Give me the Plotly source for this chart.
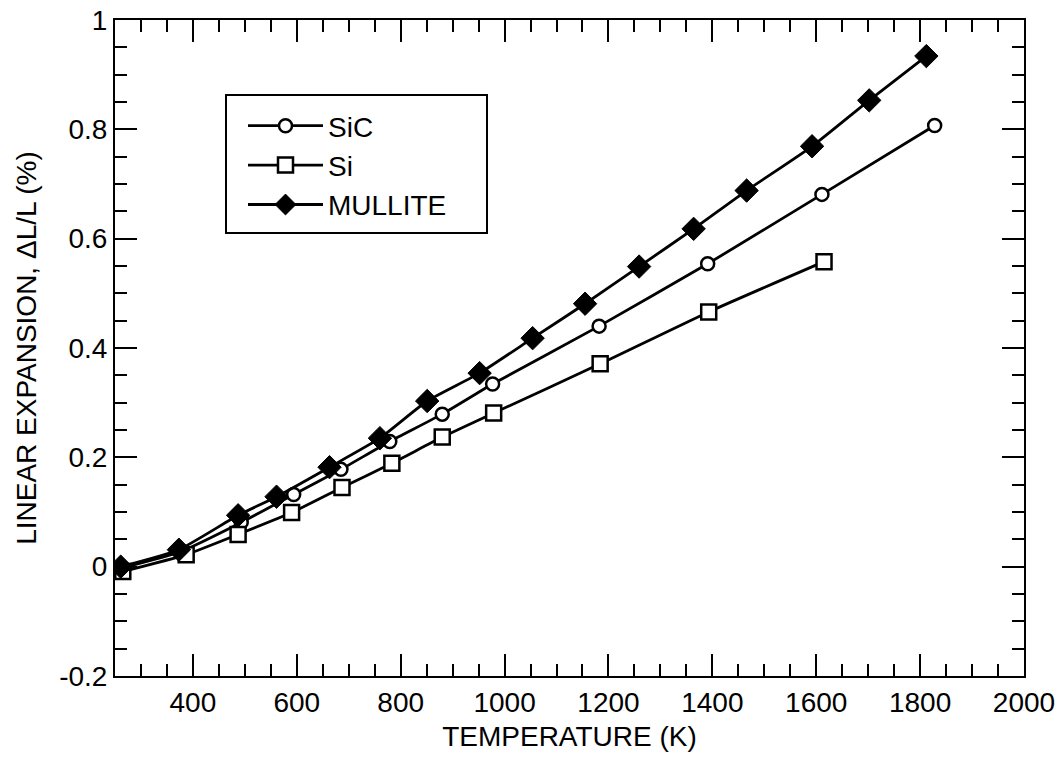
import plotly.graph_objects as go

# Temperature (K) and linear expansion dL/L (%)
sic_T = [261, 377, 493, 594, 685, 779, 880, 977, 1182, 1391, 1611, 1828]
sic_dL = [-0.003, 0.028, 0.081, 0.132, 0.178, 0.229, 0.279, 0.334, 0.440, 0.554, 0.681, 0.807]

si_T = [265, 387, 487, 590, 687, 783, 880, 979, 1184, 1393, 1615]
si_dL = [-0.009, 0.022, 0.059, 0.099, 0.145, 0.189, 0.237, 0.281, 0.371, 0.466, 0.558]

mullite_T = [261, 373, 487, 561, 663, 760, 851, 952, 1054, 1155, 1259, 1364, 1466, 1592, 1702, 1812]
mullite_dL = [0.0, 0.031, 0.094, 0.128, 0.182, 0.235, 0.303, 0.354, 0.418, 0.481, 0.549, 0.618,
              0.688, 0.769, 0.853, 0.934]

x_tickvals = [400, 600, 800, 1000, 1200, 1400, 1600, 1800, 2000]
x_ticktext = ["400", "600", "800", "1000", "1200", "1400", "1600", "1800", "2000"]
y_tickvals = [-0.2, 0, 0.2, 0.4, 0.6, 0.8, 1.0]
y_ticktext = ["-0.2", "0", "0.2", "0.4", "0.6", "0.8", "1"]

FONT = "Liberation Sans, Arial, Helvetica, sans-serif"

ML, MR, MT, MB = 115, 36, 20, 85
W, H = 1060, 761
PW, PH = W - ML - MR, H - MT - MB


def px_to_paper(px, py):
    return (px - ML) / PW, (H - MB - py) / PH


fig = go.Figure()
fig.add_trace(go.Scatter(
    x=sic_T, y=sic_dL, name="SiC", mode="lines+markers",
    line=dict(color="black", width=2.8, shape="spline", smoothing=0.5),
    marker=dict(symbol="circle", size=13, color="white", line=dict(color="black", width=2.5)),
))
fig.add_trace(go.Scatter(
    x=si_T, y=si_dL, name="Si", mode="lines+markers",
    line=dict(color="black", width=2.8, shape="spline", smoothing=0.5),
    marker=dict(symbol="square", size=15, color="white", line=dict(color="black", width=2.5)),
))
fig.add_trace(go.Scatter(
    x=mullite_T, y=mullite_dL, name="MULLITE", mode="lines+markers",
    line=dict(color="black", width=2.8, shape="spline", smoothing=0.5),
    marker=dict(symbol="diamond", size=18, color="black", line=dict(color="black", width=1)),
))

axis_common = dict(
    showgrid=False, zeroline=False, automargin=False,
    showline=True, linecolor="black", linewidth=2, mirror="allticks",
    ticks="inside", ticklen=22, tickwidth=2, tickcolor="black",
    tickfont=dict(family=FONT, size=28, color="black"),
)

fig.update_xaxes(
    range=[250, 2000], tickmode="array", tickvals=x_tickvals, ticktext=x_ticktext,
    minor=dict(ticks="inside", ticklen=12, tickwidth=2, tickcolor="black", dtick=50, tick0=0),
    title=dict(text="TEMPERATURE (K)", font=dict(family=FONT, size=28, color="black"), standoff=10),
    **axis_common,
)
fig.update_yaxes(
    range=[-0.2, 1.0], tickmode="array", tickvals=y_tickvals, ticktext=y_ticktext,
    minor=dict(ticks="inside", ticklen=12, tickwidth=2, tickcolor="black", dtick=0.05, tick0=0),
    title=dict(text="LINEAR EXPANSION, ΔL/L (%)", font=dict(family=FONT, size=28, color="black"), standoff=14),
    **axis_common,
)

bx0, by1 = px_to_paper(226, 95)
bx1, by0 = px_to_paper(487, 233)
lx, ly = px_to_paper(243, 101)

fig.update_layout(
    width=W, height=H,
    margin=dict(l=ML, r=MR, t=MT, b=MB),
    paper_bgcolor="white", plot_bgcolor="white",
    font=dict(family=FONT, color="black"),
    showlegend=True,
    legend=dict(
        x=lx, y=ly, xanchor="left", yanchor="top",
        bgcolor="rgba(0,0,0,0)", borderwidth=0,
        font=dict(family=FONT, size=28, color="black"),
        itemwidth=75, tracegroupgap=0,
    ),
    shapes=[dict(type="rect", xref="paper", yref="paper", x0=bx0, x1=bx1, y0=by0, y1=by1,
                 line=dict(color="black", width=2), fillcolor="rgba(0,0,0,0)", layer="above")],
)

fig.write_html(
    "out.html",
    config={"displayModeBar": False},
    post_script="document.body.style.margin='0px';document.body.style.overflow='hidden';",
)
